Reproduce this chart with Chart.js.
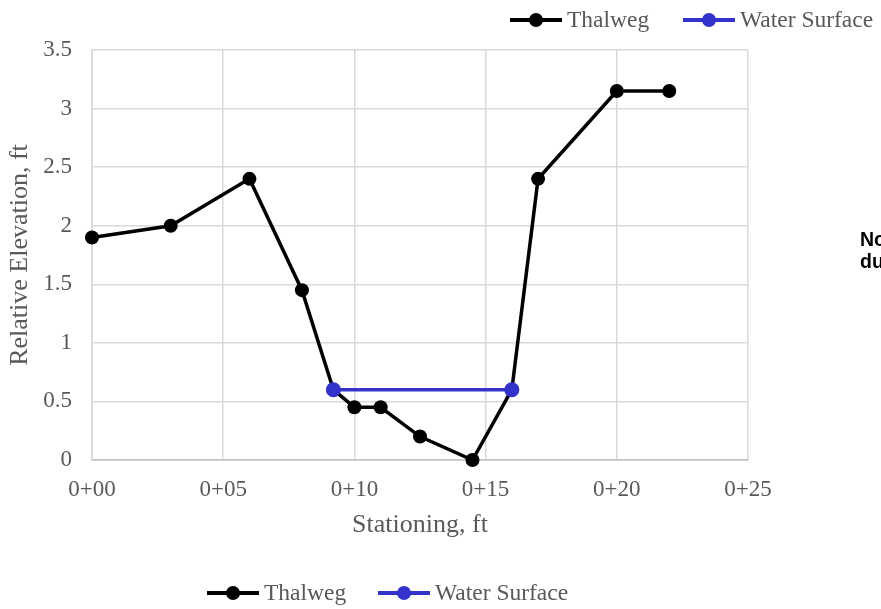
<!DOCTYPE html>
<html>
<head>
<meta charset="utf-8">
<script src="https://cdn.jsdelivr.net/npm/chart.js@4/dist/chart.umd.min.js"></script>
<style>
  html, body { margin:0; padding:0; background:#fff; width:881px; height:609px; overflow:hidden; }
  #wrap { position:relative; width:881px; height:609px; }
  canvas { position:absolute; left:0; top:0; }
  .leg { position:absolute; font-family:"Liberation Serif","Times New Roman",serif; font-size:23.5px; color:#595959; white-space:nowrap; }
  .sw { position:absolute; width:52px; height:16px; }
  .sw .ln { position:absolute; left:0; right:0; top:6px; height:4px; }
  .sw .dt { position:absolute; left:19px; top:1px; width:14px; height:14px; border-radius:50%; }
  .note { position:absolute; left:860px; top:228px; font-family:"Liberation Sans",Arial,sans-serif; font-weight:bold; font-size:19.5px; line-height:22px; color:#000; white-space:nowrap; }
</style>
</head>
<body>
<div id="wrap">
  <canvas id="c" width="881" height="609"></canvas>
  <div class="note">No<br>du</div>
</div>
<script>
// ---- data ----
const stations = [0, 3, 6, 8, 9.2, 10, 11, 12.5, 14.5, 16, 17, 20, 22];
const thalweg = [1.9, 2.0, 2.4, 1.45, 0.6, 0.45, 0.45, 0.2, 0, 0.6, 2.4, 3.15, 3.15];
const waterStations = [9.2, 16];
const waterSurface = [0.6, 0.6];
const xTickLabels = ['0+00', '0+05', '0+10', '0+15', '0+20', '0+25'];
const yTickLabels = ['0', '0.5', '1', '1.5', '2', '2.5', '3', '3.5'];
const seriesNames = ['Thalweg', 'Water Surface'];
const seriesColors = ['#000000', '#3333cc'];

const serif = '"Liberation Serif","Times New Roman",serif';

const ds = [
  {
    label: seriesNames[0],
    data: stations.map((x, i) => ({x: x, y: thalweg[i]})),
    borderColor: seriesColors[0], backgroundColor: seriesColors[0],
    borderWidth: 3.5, pointRadius: 7, pointHoverRadius: 7, pointBorderWidth: 0,
    tension: 0, order: 2, clip: false
  },
  {
    label: seriesNames[1],
    data: waterStations.map((x, i) => ({x: x, y: waterSurface[i]})),
    borderColor: seriesColors[1], backgroundColor: seriesColors[1],
    borderWidth: 3.5, pointRadius: 7.5, pointHoverRadius: 7.5, pointBorderWidth: 0,
    tension: 0, order: 1, clip: false
  }
];

new Chart(document.getElementById('c'), {
  type: 'line',
  data: { datasets: ds },
  options: {
    responsive: false, animation: false, devicePixelRatio: 1,
    layout: { padding: { left: 0, top: 50, right: 133, bottom: 49 } },
    plugins: { legend: { display: false }, tooltip: { enabled: false } },
    scales: {
      x: {
        type: 'linear', min: 0, max: 25,
        afterFit: s => { s.height = 100; },
        ticks: { stepSize: 5, padding: 16, color: '#595959', font: { family: serif, size: 23 },
          callback: v => xTickLabels[Math.round(v / 5)] },
        grid: { color: '#d9d9d9', lineWidth: 1.5, drawTicks: false },
        border: { color: '#bfbfbf', width: 1.5 },
        title: { display: true, text: 'Stationing, ft', color: '#595959',
          font: { family: serif, size: 26 }, padding: { top: 4, bottom: 19 } }
      },
      y: {
        min: 0, max: 3.5,
        afterFit: s => { s.width = 92; },
        ticks: { stepSize: 0.5, padding: 20, color: '#595959', font: { family: serif, size: 23 },
          callback: v => yTickLabels[Math.round(v * 2)] },
        grid: { color: '#d9d9d9', lineWidth: 1.5, drawTicks: false },
        border: { color: '#d9d9d9', width: 1.5 },
        title: { display: true, text: 'Relative Elevation, ft', color: '#595959',
          font: { family: serif, size: 26 }, padding: { top: 5, bottom: 4 } }
      }
    }
  }
});

// ---- legends (top and bottom), built from series names / colors ----
function legend(positions, cy) {
  const wrap = document.getElementById('wrap');
  positions.forEach((p, i) => {
    const sw = document.createElement('div');
    sw.className = 'sw';
    sw.style.left = p.sw + 'px';
    sw.style.top = (cy - 8) + 'px';
    sw.innerHTML = '<div class="ln" style="background:' + seriesColors[i] + '"></div>' +
                   '<div class="dt" style="background:' + seriesColors[i] + '"></div>';
    wrap.appendChild(sw);
    const t = document.createElement('div');
    t.className = 'leg';
    t.textContent = seriesNames[i];
    t.style.left = p.tx + 'px';
    t.style.top = (cy - 15) + 'px';
    t.style.lineHeight = '28px';
    wrap.appendChild(t);
  });
}
legend([{sw: 510, tx: 567}, {sw: 683, tx: 740}], 20);
legend([{sw: 207, tx: 264}, {sw: 378, tx: 435}], 593);
</script>
</body>
</html>
